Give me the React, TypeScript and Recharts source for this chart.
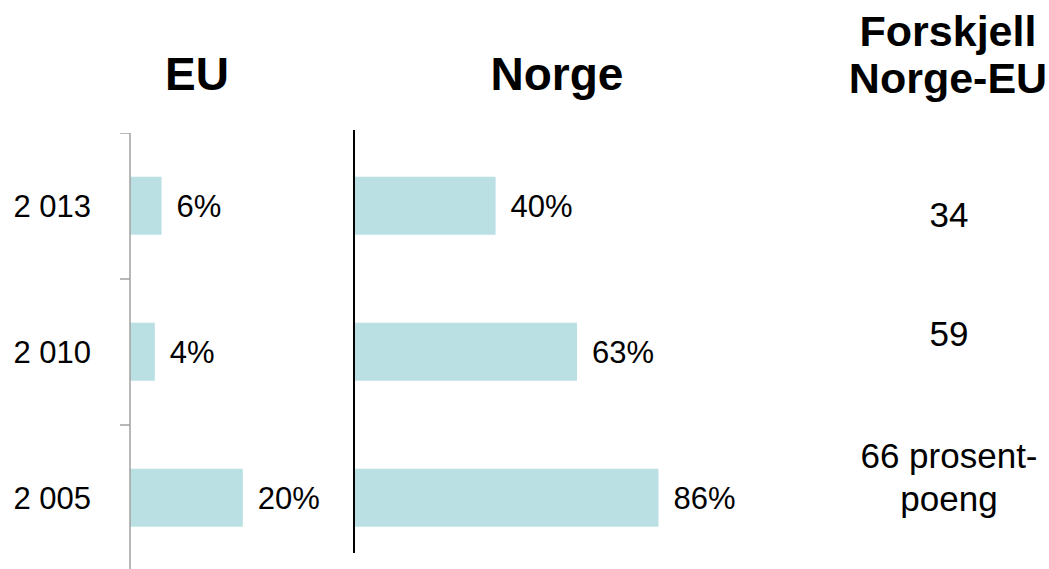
import React from 'react';
import { BarChart, Bar, XAxis, YAxis, LabelList } from 'recharts';

const years = ['2 013', '2 010', '2 005'];
const euShare = [5.6, 4.4, 20];
const norgeShare = [40, 63, 86];
const diffUnits = ['', '', 'prosent-\npoeng'];

const data = years.map((year, i) => ({ year, eu: euShare[i], norge: norgeShare[i] }));
const diffs = years.map((_, i) => Math.round(norgeShare[i]) - Math.round(euShare[i]));

const BAR = '#bae0e3';
const FONT = '"Liberation Sans", Arial, sans-serif';
const diffTops = [193, 312, 434];

const pct = (v: any) => `${Math.round(Number(v))}%`;

const EuTick = ({ x, y, payload }: any) => {
  const half = payload?.offset || 73;
  return (
    <g>
      <line x1={x - 10} x2={x} y1={y - half} y2={y - half} stroke="#a0a0a0" strokeWidth={1.5} />
      <text x={x - 39} y={y + 11} textAnchor="end" fontSize={31} fill="#000">
        {payload.value}
      </text>
    </g>
  );
};

const Title = ({ text, cx, top, size, lh }: { text: string; cx: number; top: number; size: number; lh: number }) => (
  <div
    style={{
      position: 'absolute',
      left: cx - 150,
      width: 300,
      top,
      textAlign: 'center',
      fontWeight: 'bold',
      fontSize: size,
      lineHeight: `${lh}px`,
      whiteSpace: 'pre-line',
    }}
  >
    {text}
  </div>
);

export default function App() {
  return (
    <div
      style={{
        position: 'absolute',
        left: 0,
        top: 0,
        width: 1049,
        height: 569,
        overflow: 'hidden',
        background: '#fff',
        fontFamily: FONT,
        color: '#000',
      }}
    >
      <Title text="EU" cx={197} top={51} size={46} lh={46} />
      <Title text="Norge" cx={557} top={51} size={46} lh={46} />
      <Title text={'Forskjell\nNorge-EU'} cx={948} top={8} size={43} lh={47} />

      <div style={{ position: 'absolute', left: 0, top: 133 }}>
        <BarChart
          width={351}
          height={438}
          data={data}
          layout="vertical"
          barCategoryGap="30%"
          margin={{ top: 0, right: 80, bottom: 0, left: 0 }}
        >
          <XAxis type="number" domain={[0, 25]} hide />
          <YAxis
            type="category"
            dataKey="year"
            width={130}
            tickSize={0}
            tickMargin={0}
            tickLine={false}
            axisLine={{ stroke: '#a0a0a0', strokeWidth: 1.5 }}
            tick={<EuTick />}
            interval={0}
          />
          <Bar dataKey="eu" fill={BAR} isAnimationActive={false}>
            <LabelList dataKey="eu" position="right" offset={15} formatter={pct} fill="#000" fontSize={31} />
          </Bar>
        </BarChart>
      </div>

      <div style={{ position: 'absolute', left: 300, top: 130 }}>
        <BarChart
          width={510}
          height={423}
          data={data}
          layout="vertical"
          barCategoryGap="30%"
          margin={{ top: 0, right: 102, bottom: 0, left: 0 }}
        >
          <XAxis type="number" domain={[0, 100]} hide />
          <YAxis
            type="category"
            dataKey="year"
            width={54}
            tick={false}
            tickLine={false}
            padding={{ top: 3, bottom: -18 }}
            axisLine={{ stroke: '#000', strokeWidth: 2 }}
          />
          <Bar dataKey="norge" fill={BAR} isAnimationActive={false}>
            <LabelList dataKey="norge" position="right" offset={15} formatter={pct} fill="#000" fontSize={31} />
          </Bar>
        </BarChart>
      </div>

      {diffs.map((d, i) => (
        <div
          key={years[i]}
          style={{
            position: 'absolute',
            left: 799,
            width: 300,
            top: diffTops[i],
            textAlign: 'center',
            fontSize: 35,
            lineHeight: '43px',
            whiteSpace: 'pre-line',
          }}
        >
          {diffUnits[i] ? `${d} ${diffUnits[i]}` : `${d}`}
        </div>
      ))}
    </div>
  );
}
